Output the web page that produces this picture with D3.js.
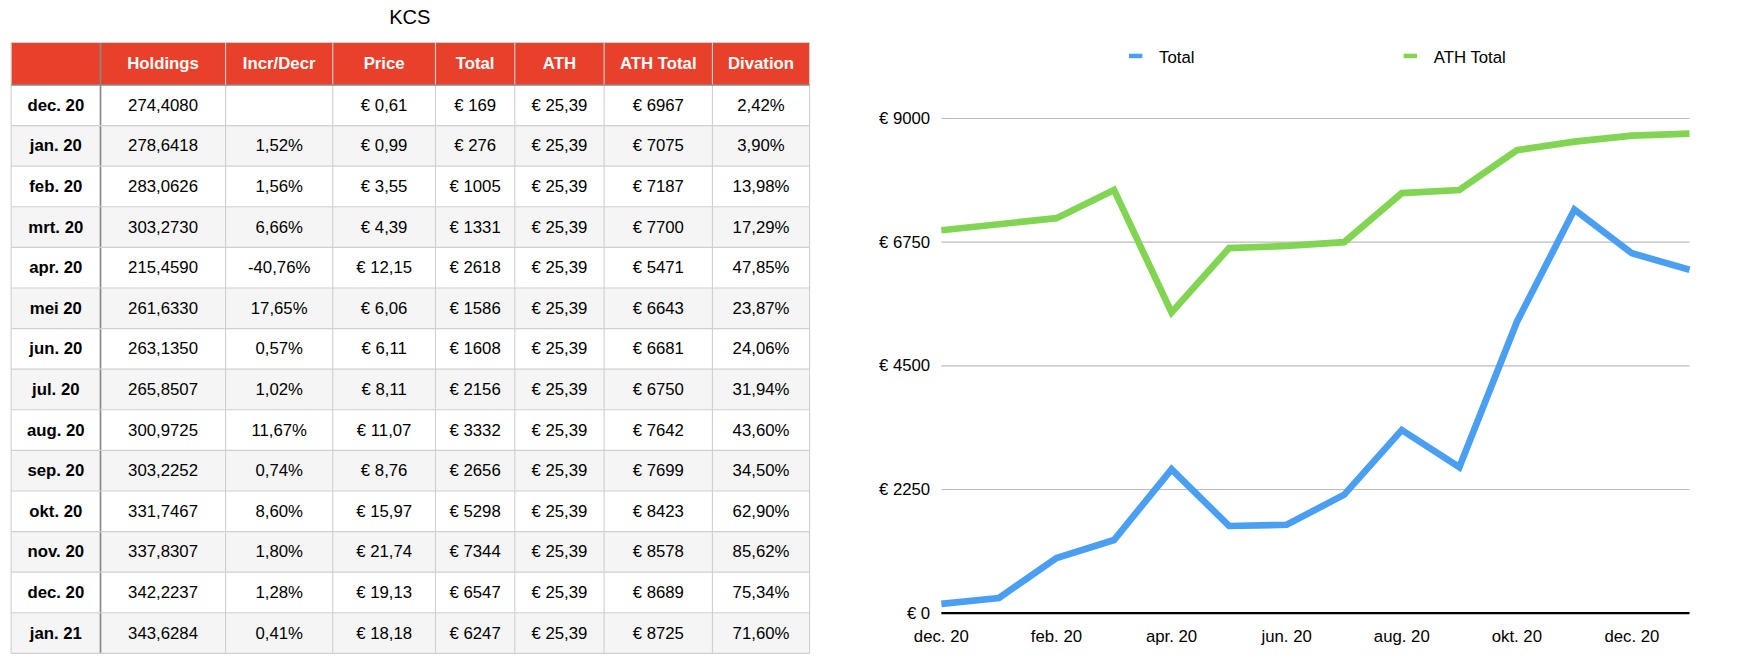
<!DOCTYPE html>
<html><head><meta charset="utf-8">
<script src="https://cdn.jsdelivr.net/npm/d3@7"></script>
<style>body{margin:0;background:#fff}svg{display:block;font-family:"Liberation Sans",Arial,sans-serif}</style>
</head><body>
<svg id="c" width="1742" height="668" viewBox="0 0 1560 598"></svg>
<script>
/* Data */
var months = ["dec. 20","jan. 20","feb. 20","mrt. 20","apr. 20","mei 20","jun. 20","jul. 20","aug. 20","sep. 20","okt. 20","nov. 20","dec. 20","jan. 21"];
var holdings = ["274,4080","278,6418","283,0626","303,2730","215,4590","261,6330","263,1350","265,8507","300,9725","303,2252","331,7467","337,8307","342,2237","343,6284"];
var incr = ["","1,52%","1,56%","6,66%","-40,76%","17,65%","0,57%","1,02%","11,67%","0,74%","8,60%","1,80%","1,28%","0,41%"];
var price = ["€ 0,61","€ 0,99","€ 3,55","€ 4,39","€ 12,15","€ 6,06","€ 6,11","€ 8,11","€ 11,07","€ 8,76","€ 15,97","€ 21,74","€ 19,13","€ 18,18"];
var total = [169,276,1005,1331,2618,1586,1608,2156,3332,2656,5298,7344,6547,6247];
var ath = ["€ 25,39","€ 25,39","€ 25,39","€ 25,39","€ 25,39","€ 25,39","€ 25,39","€ 25,39","€ 25,39","€ 25,39","€ 25,39","€ 25,39","€ 25,39","€ 25,39"];
var athTotal = [6967,7075,7187,7700,5471,6643,6681,6750,7642,7699,8423,8578,8689,8725];
var divation = ["2,42%","3,90%","13,98%","17,29%","47,85%","23,87%","24,06%","31,94%","43,60%","34,50%","62,90%","85,62%","75,34%","71,60%"];
var headers = ["","Holdings","Incr/Decr","Price","Total","ATH","ATH Total","Divation"];
var yTicks = [0,2250,4500,6750,9000];

var svg = d3.select("#c");

/* Table */
svg.append("text").attr("x",367).attr("y",21).attr("text-anchor","middle")
  .attr("font-size",18).text("KCS");

var colEdges = [10,90,202,298,390,461,541,638,725];
var headTop = 38, headH = 38, rowH = (585-76)/14;
var rows = months.map(function(m,i){
  return [m,holdings[i],incr[i],price[i],"€ "+total[i],ath[i],"€ "+athTotal[i],divation[i]];
});

var tbl = svg.append("g");
tbl.append("rect").attr("x",10).attr("y",headTop).attr("width",715).attr("height",headH).attr("fill","#e8412b");
rows.forEach(function(r,i){
  var y = headTop+headH+i*rowH;
  tbl.append("rect").attr("x",10).attr("y",y).attr("width",715).attr("height",rowH)
    .attr("fill", i%2 ? "#f5f5f5" : "#fff");
});
// grid
colEdges.forEach(function(x,j){
  tbl.append("line").attr("x1",x).attr("x2",x).attr("y1",headTop).attr("y2",585)
    .attr("stroke", j==1 ? "#888" : "#d0d0d0").attr("stroke-width", j==1?1.5:1);
});
d3.range(15).forEach(function(i){
  var y = headTop+headH+i*rowH;
  tbl.append("line").attr("x1",10).attr("x2",725).attr("y1",y).attr("y2",y)
    .attr("stroke", i==0 ? "#888" : "#d0d0d0").attr("stroke-width", i==0?1.5:1);
});
tbl.append("line").attr("x1",10).attr("x2",725).attr("y1",headTop).attr("y2",headTop).attr("stroke","#d0d0d0");
headers.forEach(function(h,j){
  tbl.append("text").attr("x",(colEdges[j]+colEdges[j+1])/2).attr("y",headTop+headH/2+5)
    .attr("text-anchor","middle").attr("font-size",15).attr("font-weight","bold")
    .attr("fill","#fff").text(h);
});
rows.forEach(function(r,i){
  r.forEach(function(v,j){
    tbl.append("text").attr("x",(colEdges[j]+colEdges[j+1])/2)
      .attr("y",headTop+headH+i*rowH+rowH/2+5).attr("text-anchor","middle")
      .attr("font-size",15).attr("font-weight", j==0?"bold":"normal").attr("fill","#000").text(v);
  });
});

/* Chart */
var x = d3.scalePoint().domain(d3.range(months.length)).range([843,1513]);
var y = d3.scaleLinear().domain([0,9000]).range([549,106]);

var g = svg.append("g");
yTicks.forEach(function(t){
  g.append("line").attr("x1",843).attr("x2",1513).attr("y1",y(t)).attr("y2",y(t))
    .attr("stroke", t==0 ? "#000" : "#bbb").attr("stroke-width", t==0 ? 2 : 1);
  g.append("text").attr("x",833).attr("y",y(t)+5).attr("text-anchor","end")
    .attr("font-size",15).text("€ "+t);
});
months.forEach(function(m,i){
  if(i%2==0 && i<13) g.append("text").attr("x",x(i)).attr("y",575).attr("text-anchor","middle")
    .attr("font-size",15).text(m);
});

var line = d3.line().x(function(d,i){return x(i);}).y(function(d){return y(d);});
g.append("path").datum(athTotal).attr("d",line).attr("fill","none")
  .attr("stroke","#82d552").attr("stroke-width",6);
g.append("path").datum(total).attr("d",line).attr("fill","none")
  .attr("stroke","#4b9ff3").attr("stroke-width",6);

var legend = [["Total","#4b9ff3",1011],["ATH Total","#82d552",1257]];
legend.forEach(function(l){
  g.append("rect").attr("x",l[2]).attr("y",48).attr("width",12).attr("height",4).attr("fill",l[1]);
  g.append("text").attr("x",l[2]+27).attr("y",56).attr("font-size",15).text(l[0]);
});
</script>
</body></html>
